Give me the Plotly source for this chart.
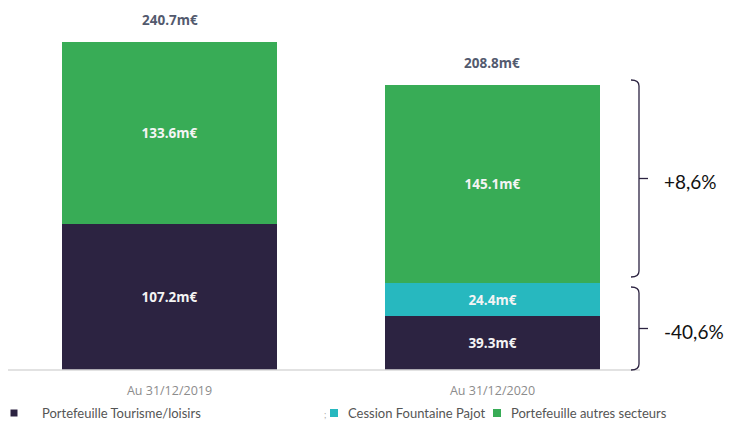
import plotly.graph_objects as go

categories = ["Au 31/12/2019", "Au 31/12/2020"]
tourisme = [107.2, 39.3]
fountaine = [0.0, 24.4]
autres = [133.6, 145.1]
totals = [240.7, 208.8]
series_names = ["Portefeuille Tourisme/loisirs", "Cession Fountaine Pajot", "Portefeuille autres secteurs"]
brace_labels = ["+8,6%", "-40,6%"]

C_DARK = "#2C2341"
C_TEAL = "#27B8BF"
C_GREEN = "#38AC56"

# page body has an 8px margin; figure is placed at (8, 8) in the screenshot
OFF = 8
W, H = 732 - OFF, 423 - OFF
PL, PR, PT, PB = 8, 640, 10, 370   # plot area in screenshot pixels
L, R, T, B = PL - OFF, W - (PR - OFF), PT - OFF, H - (PB - OFF)
PW, PH = PR - PL, PB - PT

def px(x):
    return (x - PL) / PW

def py(y):
    return (PB - y) / PH

def fmt(v):
    return f"{v:.1f}m€" if v > 0 else ""

fig = go.Figure()
for vals, name, col in [(tourisme, series_names[0], C_DARK),
                        (fountaine, series_names[1], C_TEAL),
                        (autres, series_names[2], C_GREEN)]:
    fig.add_trace(go.Bar(
        x=categories, y=vals, name=name, marker=dict(color=col, line=dict(width=0)),
        width=0.666, text=[fmt(v) for v in vals], textposition="inside",
        insidetextanchor="middle", textangle=0,
        textfont=dict(family="Open Sans", size=13.5, color="#F4F4F4", weight="bold"),
        cliponaxis=False, showlegend=False, hoverinfo="skip"))

annotations = []
for c, t in zip(categories, totals):
    annotations.append(dict(x=c, y=t, xref="x", yref="y", text=f"{t:.1f}m€",
                            showarrow=False, yanchor="bottom", yshift=11,
                            font=dict(family="Open Sans", size=13.5, color="#535A6E", weight="bold")))

shapes = []
shapes.append(dict(type="line", xref="paper", yref="paper", x0=0, x1=px(640), y0=0, y1=0,
                   line=dict(color="#D9D9D9", width=1.5)))

def brace(top, bot):
    mid = (top + bot) / 2
    xl, xv, xt = 631, 639, 648
    path = (f"M {px(xl)},{py(top)} Q {px(xv)},{py(top)} {px(xv)},{py(top+6)} "
            f"L {px(xv)},{py(bot-6)} Q {px(xv)},{py(bot)} {px(xl)},{py(bot)}")
    shapes.append(dict(type="path", xref="paper", yref="paper", path=path,
                       line=dict(color=C_DARK, width=1.3)))
    shapes.append(dict(type="line", xref="paper", yref="paper", x0=px(xv), x1=px(xt),
                       y0=py(mid), y1=py(mid), line=dict(color=C_DARK, width=1.3)))
    return mid

m1 = brace(80, 277)
m2 = brace(287, 370)
for m, lab in zip([m1, m2], brace_labels):
    annotations.append(dict(x=px(662), y=py(m + 3), xref="paper", yref="paper", text=lab,
                            showarrow=False, xanchor="left", yanchor="middle",
                            font=dict(family="Lato", size=19, color="#111111")))

legend_items = [(14, 40, C_DARK, series_names[0]),
                (334, 346, C_TEAL, series_names[1]),
                (497, 509, C_GREEN, series_names[2])]
ly = 413
for sx, tx, col, name in legend_items:
    sz = 7 if col == C_DARK else 8
    shapes.append(dict(type="rect", xref="paper", yref="paper",
                       x0=px(sx - sz / 2), x1=px(sx + sz / 2),
                       y0=py(ly + sz / 2), y1=py(ly - sz / 2),
                       fillcolor=col, line=dict(width=0)))
    annotations.append(dict(x=px(tx), y=py(ly), xref="paper", yref="paper", text=name,
                            showarrow=False, xanchor="left", yanchor="middle",
                            font=dict(family="Lato", size=13, color="#555555")))
annotations.append(dict(x=px(322), y=py(ly + 1), xref="paper", yref="paper", text=";",
                        showarrow=False, xanchor="left", yanchor="middle",
                        font=dict(family="Lato", size=9, color="#AAAAAA")))

fig.update_layout(
    width=W, height=H, margin=dict(l=L, r=R, t=T, b=B),
    barmode="stack", bargap=0,
    paper_bgcolor="white", plot_bgcolor="white",
    xaxis=dict(type="category", range=[-0.5, 1.4567], showgrid=False, zeroline=False,
               showline=False, ticks="", ticklabelstandoff=11,
               tickfont=dict(family="Open Sans", size=12.5, color="#8C8C8C")),
    yaxis=dict(range=[0, PH / 1.363], visible=False, showgrid=False, zeroline=False),
    annotations=annotations, shapes=shapes, showlegend=False,
)

fig.write_html("out.html")
